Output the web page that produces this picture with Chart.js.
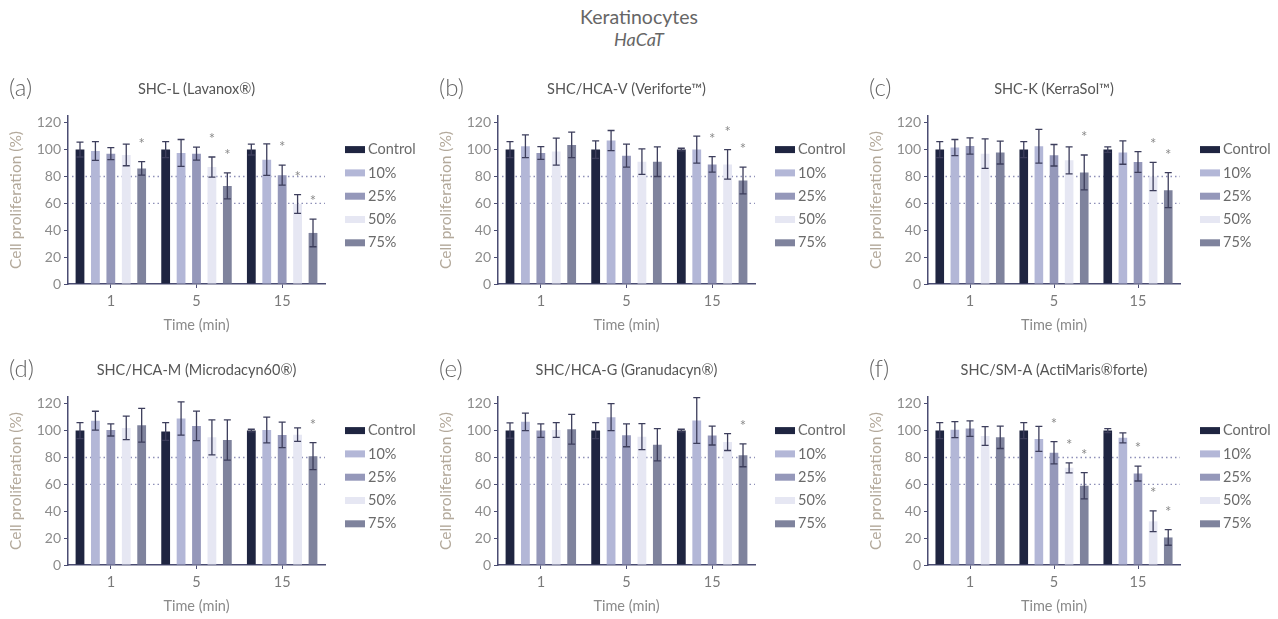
<!DOCTYPE html>
<html>
<head>
<meta charset="utf-8">
<script src="https://cdn.jsdelivr.net/npm/chart.js@4"></script>
<style>
body { margin: 0; background: #fff; width: 1278px; height: 619px; position: relative; overflow: hidden; font-family: Lato, sans-serif; }
.main { position: absolute; left: 0; width: 1278px; text-align: center; color: #666; font-size: 18px; }
.panel { position: absolute; width: 430px; height: 280px; }
.tag { position: absolute; left: 9px; top: 10px; font-size: 24px; font-weight: 300; color: #666; }
canvas { position: absolute; left: 0; top: 0; }
</style>
</head>
<body>
<div class="main" style="top:5px;font-size:19.5px">Keratinocytes</div>
<div class="main" style="top:28px;font-style:italic">HaCaT</div>

<div class="panel" style="left:0;top:62px"><canvas id="ca" width="430" height="280"></canvas><div class="tag">(a)</div></div>
<div class="panel" style="left:430px;top:62px"><canvas id="cb" width="430" height="280"></canvas><div class="tag">(b)</div></div>
<div class="panel" style="left:860px;top:62px"><canvas id="cc" width="418" height="280"></canvas><div class="tag">(c)</div></div>
<div class="panel" style="left:0;top:343px"><canvas id="cd" width="430" height="280"></canvas><div class="tag">(d)</div></div>
<div class="panel" style="left:430px;top:343px"><canvas id="ce" width="430" height="280"></canvas><div class="tag">(e)</div></div>
<div class="panel" style="left:860px;top:343px"><canvas id="cf" width="418" height="280"></canvas><div class="tag">(f)</div></div>

<script>
var timeLabels = ['1', '5', '15'];
var seriesNames = ['Control', '10%', '25%', '50%', '75%'];
var seriesColors = ['#1f2541', '#b3b7d7', '#9598ba', '#e6e7f3', '#7f839d'];
var yTickValues = [0, 20, 40, 60, 80, 100, 120];
var refLines = [80, 60];

// rows = concentration, columns = 1, 5, 15 min
var lavanoxMean = [[100, 100, 100], [99, 97.5, 92.5], [97, 97, 81], [96, 87, 59.5], [86, 73, 38]];
var lavanoxErr  = [[5.5, 6, 4], [7, 10, 11.7], [4.5, 4.8, 7.5], [8, 7.5, 7], [5, 9.7, 10.3]];
var lavanoxSig  = [[0, 0, 0], [0, 0, 0], [0, 0, 1], [0, 1, 1], [1, 1, 1]];

var veriforteMean = [[100, 100, 100], [102.5, 106.7, 100], [97.5, 95.5, 89], [98.5, 91, 89], [103.5, 91, 77]];
var veriforteErr  = [[6, 6.5, 1], [8.5, 7.5, 10], [4.7, 8.5, 5.7], [10, 9.5, 11], [9.5, 11, 10]];
var veriforteSig  = [[0, 0, 0], [0, 0, 0], [0, 0, 1], [0, 0, 1], [0, 0, 1]];

var kerrasolMean = [[100, 100, 100], [101.5, 102.5, 97.8], [102.7, 95.8, 90.8], [97, 92, 80], [97.8, 83, 69.8]];
var kerrasolErr  = [[6, 6, 2], [6, 12.5, 8.7], [6, 8, 7.7], [11, 10, 10.5], [8.5, 13, 13]];
var kerrasolSig  = [[0, 0, 0], [0, 0, 0], [0, 0, 0], [0, 0, 1], [0, 1, 1]];

var microdacynMean = [[100, 99.3, 100], [107.4, 109, 100.5], [100.5, 103.5, 96.8], [102, 95, 97], [104, 93, 81]];
var microdacynErr  = [[6, 6.6, 1], [7, 12.4, 9.6], [4.5, 11, 9.5], [8.7, 13, 5], [12.6, 15, 10]];
var microdacynSig  = [[0, 0, 0], [0, 0, 0], [0, 0, 0], [0, 0, 0], [0, 0, 1]];

var granudacynMean = [[100, 100, 100], [106.5, 110, 107.5], [100, 96.5, 96.3], [100.5, 95.5, 91.5], [101, 89.5, 81.6]];
var granudacynErr  = [[5.7, 6, 1], [6.5, 10, 17], [5, 8.5, 7], [5.5, 9.7, 6.3], [11, 12, 8.5]];
var granudacynSig  = [[0, 0, 0], [0, 0, 0], [0, 0, 0], [0, 0, 0], [0, 0, 1]];

var actimarisMean = [[100, 100, 100], [100.7, 93.8, 94.6], [101.5, 83.5, 68], [96, 72.3, 32.5], [95, 59, 20.5]];
var actimarisErr  = [[6, 6, 1.5], [6, 9.3, 3.7], [5.8, 8.3, 5.5], [7, 3.7, 7.7], [8.3, 9.8, 5.8]];
var actimarisSig  = [[0, 0, 0], [0, 0, 0], [0, 1, 1], [0, 1, 1], [0, 1, 1]];

var panels = [
  {canvas: 'ca', title: 'SHC-L (Lavanox®)', mean: lavanoxMean, err: lavanoxErr, sig: lavanoxSig},
  {canvas: 'cb', title: 'SHC/HCA-V (Veriforte™)', mean: veriforteMean, err: veriforteErr, sig: veriforteSig},
  {canvas: 'cc', title: 'SHC-K (KerraSol™)', mean: kerrasolMean, err: kerrasolErr, sig: kerrasolSig},
  {canvas: 'cd', title: 'SHC/HCA-M (Microdacyn60®)', mean: microdacynMean, err: microdacynErr, sig: microdacynSig},
  {canvas: 'ce', title: 'SHC/HCA-G (Granudacyn®)', mean: granudacynMean, err: granudacynErr, sig: granudacynSig},
  {canvas: 'cf', title: 'SHC/SM-A (ActiMaris®forte)', mean: actimarisMean, err: actimarisErr, sig: actimarisSig}
];

var axisColor = '#4b4d73';

// dotted 80% / 60% guides behind the bars
var refLinePlugin = {
  id: 'refLines',
  beforeDatasetsDraw: function(chart) {
    var ctx = chart.ctx, a = chart.chartArea, ys = chart.scales.y;
    ctx.save();
    ctx.strokeStyle = '#8e90b8';
    ctx.lineWidth = 1.3;
    ctx.setLineDash([1.5, 3]);
    refLines.forEach(function(v) {
      var y = ys.getPixelForValue(v);
      ctx.beginPath();
      ctx.moveTo(a.left + 4, y);
      ctx.lineTo(a.right, y);
      ctx.stroke();
    });
    ctx.restore();
  }
};

// SD whiskers and significance stars
var errorBarPlugin = {
  id: 'errorBars',
  afterDatasetsDraw: function(chart) {
    var ctx = chart.ctx, ys = chart.scales.y;
    ctx.save();
    chart.data.datasets.forEach(function(ds, i) {
      chart.getDatasetMeta(i).data.forEach(function(bar, j) {
        var m = ds.data[j], e = ds.err[j];
        var top = ys.getPixelForValue(m + e), bot = ys.getPixelForValue(m - e);
        ctx.strokeStyle = '#3d3e5c';
        ctx.lineWidth = 1.3;
        ctx.beginPath();
        ctx.moveTo(bar.x, top); ctx.lineTo(bar.x, bot);
        ctx.moveTo(bar.x - 3.5, top); ctx.lineTo(bar.x + 3.5, top);
        ctx.moveTo(bar.x - 3.5, bot); ctx.lineTo(bar.x + 3.5, bot);
        ctx.stroke();
        if (ds.sig[j]) {
          ctx.fillStyle = '#8a8a8a';
          ctx.font = '15px Lato';
          ctx.textAlign = 'center';
          ctx.textBaseline = 'alphabetic';
          ctx.fillText('*', bar.x, top - 13);
        }
      });
    });
    ctx.restore();
  }
};

var sideLegendPlugin = {
  id: 'sideLegend',
  afterDraw: function(chart) {
    var ctx = chart.ctx, a = chart.chartArea;
    var x0 = a.right + 20, y0 = chart.scales.y.getPixelForValue(100);
    ctx.save();
    ctx.font = '14.5px Lato';
    ctx.textBaseline = 'middle';
    ctx.textAlign = 'left';
    chart.data.datasets.forEach(function(ds, i) {
      var y = y0 + i * 23.3;
      ctx.fillStyle = ds.backgroundColor;
      ctx.fillRect(x0, y - 3.5, 20, 7);
      ctx.fillStyle = '#6a6a6a';
      ctx.fillText(ds.label, x0 + 23, y);
    });
    ctx.restore();
  }
};

panels.forEach(function(p) {
  var datasets = seriesNames.map(function(name, i) {
    return {
      label: name,
      data: p.mean[i],
      err: p.err[i],
      sig: p.sig[i],
      backgroundColor: seriesColors[i],
      borderWidth: 0,
      barPercentage: 0.57,
      categoryPercentage: 0.9
    };
  });

  new Chart(document.getElementById(p.canvas), {
    type: 'bar',
    data: {labels: timeLabels, datasets: datasets},
    plugins: [refLinePlugin, errorBarPlugin, sideLegendPlugin],
    options: {
      responsive: false,
      animation: false,
      devicePixelRatio: 1,
      layout: {padding: {top: 19, right: p.canvas === 'cc' || p.canvas === 'cf' ? 98 : 105, bottom: 0, left: 0}},
      plugins: {
        legend: {display: false},
        tooltip: {enabled: false},
        title: {
          display: true,
          text: p.title,
          fullSize: false,
          color: '#555',
          font: {family: 'Lato', size: 14.5, weight: 'normal'},
          padding: {top: 0, bottom: 17.6}
        }
      },
      scales: {
        x: {
          ticks: {color: '#7a7a7a', font: {family: 'Lato', size: 14.5}, padding: 5},
          grid: {drawOnChartArea: false, offset: false, tickLength: 4, color: axisColor},
          border: {color: axisColor, width: 1.5},
          title: {display: true, text: 'Time (min)', color: '#8a8a8a', font: {family: 'Lato', size: 14.5}, padding: {bottom: 8}},
          afterFit: function(s) { s.height = 58; }
        },
        y: {
          min: 0,
          max: 125,
          afterBuildTicks: function(s) { s.ticks = yTickValues.map(function(v) { return {value: v}; }); },
          ticks: {color: '#8c8c8c', font: {family: 'Lato', size: 14}, padding: 3},
          grid: {drawOnChartArea: false, tickLength: 4, color: axisColor},
          border: {color: axisColor, width: 1.5},
          title: {display: true, text: 'Cell proliferation (%)', color: '#b3a99b', font: {family: 'Lato', size: 15.5}, padding: {top: 7}},
          afterFit: function(s) { s.width = 68; }
        }
      }
    }
  });
});
</script>
</body>
</html>
